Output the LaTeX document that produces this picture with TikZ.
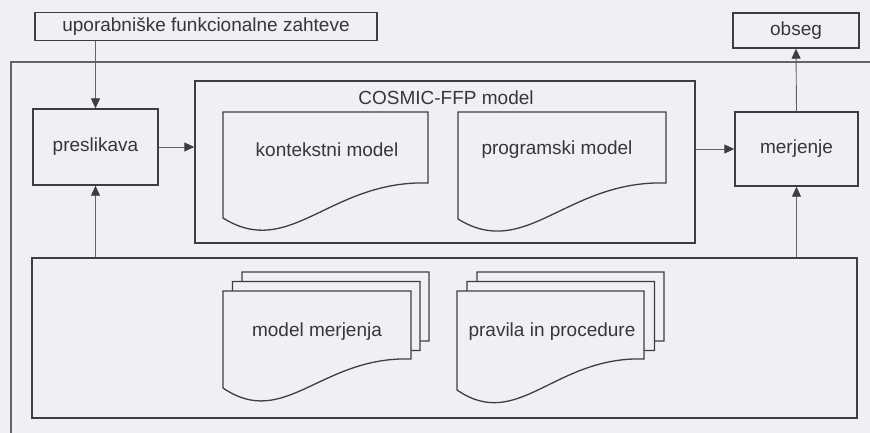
\documentclass[tikz,border=0pt]{standalone}
\usepackage{fontspec}
\setmainfont{Liberation Sans}
\usetikzlibrary{arrows.meta}
\definecolor{bgc}{RGB}{238,240,243}
\definecolor{ink}{RGB}{62,62,66}
\definecolor{thin}{RGB}{100,100,104}
\definecolor{txt}{RGB}{55,55,58}
\newcommand\mydoc[5]{%
  \draw[docline] (#1,{#2+#4}) -- (#1,#2) -- ({#1+#3},#2) -- ({#1+#3},{#2+#5})
    .. controls ({#1+0.52*#3},{#2+#5-3}) and ({#1+0.327*#3},{#2+#4+42}) .. (#1,{#2+#4}) -- cycle;}
\tikzset{
  box/.style={draw=ink, line width=1.4pt, inner sep=0pt, text=txt, font=\fontsize{19}{22}\selectfont},
  docline/.style={draw=ink, line width=1.3pt, fill=bgc},
  lbl/.style={inner sep=0pt, text=txt, font=\fontsize{19}{22}\selectfont},
  arr/.style={draw=thin, line width=0.9pt, -{Triangle[length=10pt,width=9pt,color=ink]}},
  frame/.style={draw=thin, line width=1.2pt}
}
\begin{document}
\begin{tikzpicture}[x=1pt,y=-1pt]
\fill[bgc] (0,0) rectangle (870,433);
\useasboundingbox (0,0) rectangle (870,433);
% outer frame (cut off at right and bottom)
\draw[frame] (870,62) -- (11,62) -- (11,433);
% boxes
\node[box, minimum width=342pt, minimum height=28pt] (req) at (206,26.5) {uporabniške funkcionalne zahteve};
\node[box, minimum width=126pt, minimum height=35pt] (obseg) at (796,30.5) {obseg};
\node[box, minimum width=125pt, minimum height=76pt] (presl) at (95.5,147) {preslikava};
\node[box, minimum width=123pt, minimum height=74pt] (merj) at (796.5,149) {merjenje};
\node[box, minimum width=500pt, minimum height=162pt] (cosmic) at (445,162) {};
\node[box, minimum width=825pt, minimum height=160pt] (bottom) at (444.5,338) {};
\node[lbl] (cosmiclbl) at (446,98) {COSMIC-FFP model};
% documents inside COSMIC-FFP model
\mydoc{223}{112}{205}{106}{71}
\node[lbl] (ctx) at (327,150) {kontekstni model};
\mydoc{458}{112}{208}{107}{71}
\node[lbl] (prog) at (557,150) {programski model};
% stacked documents
\mydoc{242}{272}{187}{97}{69}
\mydoc{232.5}{281.5}{187.5}{97}{69}
\mydoc{223}{291}{188}{97}{68}
\node[lbl] (mm) at (317,332) {model merjenja};
\mydoc{477}{272}{187}{99}{69}
\mydoc{467}{281.5}{187.5}{99}{69}
\mydoc{457}{291}{187}{99}{68}
\node[lbl] (pp) at (552,332) {pravila in procedure};
% connectors
\draw[arr] (presl.north |- req.south) -- (presl.north);
\draw[arr] (presl.south |- bottom.north) -- (presl.south);
\draw[arr] (presl.east) -- (cosmic.west |- presl.east);
\draw[arr] (cosmic.east |- merj.west) -- (merj.west);
\draw[arr] (merj.north) -- (obseg.south);
\draw[arr] (merj.south |- bottom.north) -- (merj.south);
\end{tikzpicture}
\end{document}
